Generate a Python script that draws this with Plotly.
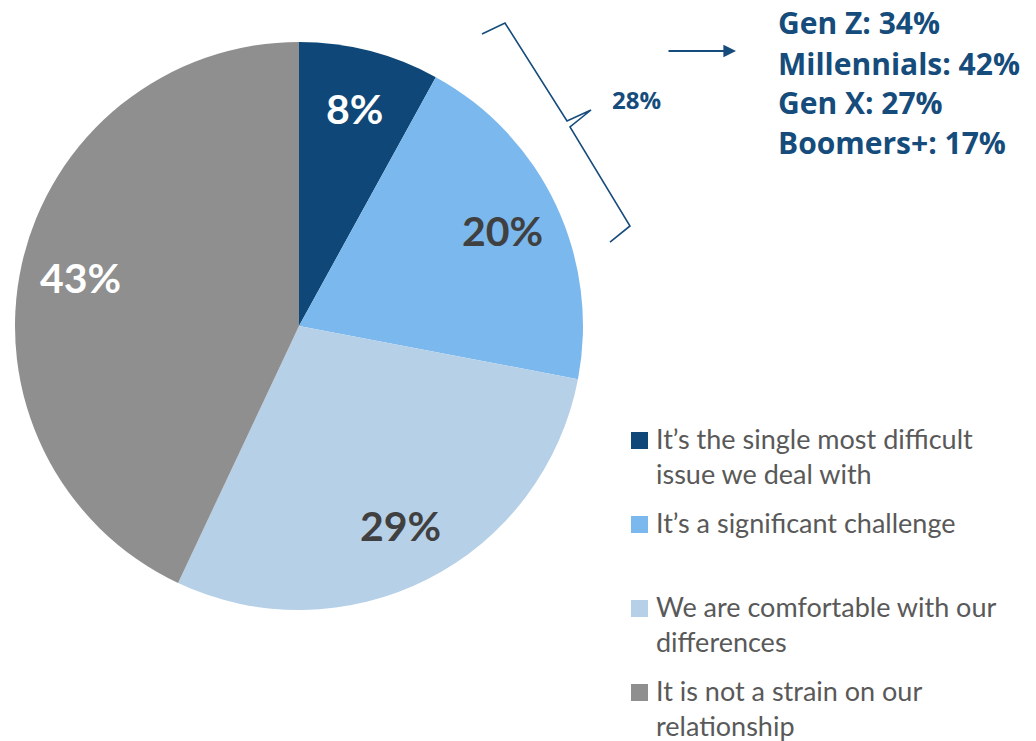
import math
import plotly.graph_objects as go

# Survey answers (share of respondents, %)
categories = [
    "It’s the single most difficult issue we deal with",
    "It’s a significant challenge",
    "We are comfortable with our differences",
    "It is not a strain on our relationship",
]
legend_lines = [
    ["It’s the single most difficult", "issue we deal with"],
    ["It’s a significant challenge"],
    ["We are comfortable with our", "differences"],
    ["It is not a strain on our", "relationship"],
]
values = [8, 20, 29, 43]
slice_colors = ["#0F4878", "#7AB8EE", "#B6D0E8", "#8F8F8F"]
label_colors = ["#FFFFFF", "#404040", "#404040", "#FFFFFF"]

# Breakdown of the combined "difficult / significant challenge" share by generation
generations = ["Gen Z", "Millennials", "Gen X", "Boomers+"]
generation_values = [34, 42, 27, 17]

NAVY = "#154C7B"
LEGEND_TEXT = "#595959"
FONT = "Lato"

W, H = 1036, 741
CX, CY, R = 299, 326, 284  # pie centre and radius in pixels


def px(x, y):
    """Pixel position -> paper coordinates."""
    return x / W, 1 - y / H


fig = go.Figure()
fig.add_trace(go.Pie(
    labels=categories,
    values=values,
    sort=False,
    direction="clockwise",
    rotation=0,
    marker=dict(colors=slice_colors, line=dict(width=0)),
    textinfo="none",
    hoverinfo="label+percent",
    domain=dict(x=[(CX - R) / W, (CX + R) / W], y=[1 - (CY + R) / H, 1 - (CY - R) / H]),
    showlegend=False,
))

annotations = []
shapes = []

# Percentage labels placed along each slice's mid angle
total = sum(values)
cum = 0
for v, col in zip(values, label_colors):
    mid = (cum + v / 2) / total * 2 * math.pi
    cum += v
    r = 0.79 * R
    lx = CX + r * math.sin(mid)
    ly = CY - r * math.cos(mid)
    x, y = px(lx, ly)
    annotations.append(dict(
        x=x, y=y, xref="paper", yref="paper", showarrow=False,
        text=f"<b>{v}%</b>", font=dict(family=FONT, size=41, color=col),
        xanchor="center", yanchor="middle",
    ))

# Curly brace around the first two slices
brace_pts = [(482, 34), (505, 23), (567, 121), (591, 110), (570, 127), (630, 226), (610, 242)]
path = ""
for i, (bx, by) in enumerate(brace_pts):
    x, y = px(bx, by)
    path += ("M" if i == 0 else "L") + f" {x:.5f},{y:.5f} "
shapes.append(dict(type="path", xref="paper", yref="paper", path=path,
                   line=dict(color=NAVY, width=1.6)))

combined = values[0] + values[1]
x, y = px(636, 100)
annotations.append(dict(
    x=x, y=y, xref="paper", yref="paper", showarrow=False,
    text=f"<b>{combined}%</b>", font=dict(family="Open Sans", size=24, color=NAVY),
    xanchor="center", yanchor="middle",
))

# Arrow pointing to the generation breakdown
x, y = px(736, 51)
annotations.append(dict(
    x=x, y=y, xref="paper", yref="paper", showarrow=True,
    ax=-69, ay=0, arrowhead=2, arrowsize=1.4, arrowwidth=1.8, arrowcolor=NAVY, text="",
))

for i, (g, gv) in enumerate(zip(generations, generation_values)):
    x, y = px(776, 23 + 40 * i)
    annotations.append(dict(
        x=x, y=y, xref="paper", yref="paper", showarrow=False,
        text=f"<b>{g}: {gv}%</b>", font=dict(family="Open Sans", size=30, color=NAVY),
        xanchor="left", yanchor="middle",
    ))

# Legend: coloured squares with wrapped labels
for i, (lines, col) in enumerate(zip(legend_lines, slice_colors)):
    top = 440 + 84 * i
    x0, y0 = px(631, top - 8)
    x1, y1 = px(648, top + 9)
    shapes.append(dict(type="rect", xref="paper", yref="paper",
                       x0=x0, y0=y1, x1=x1, y1=y0, fillcolor=col, line=dict(width=0)))
    for j, line in enumerate(lines):
        x, y = px(655, top - 2 + 35.5 * j)
        annotations.append(dict(
            x=x, y=y, xref="paper", yref="paper", showarrow=False,
            text=line, font=dict(family=FONT, size=27, color=LEGEND_TEXT),
            xanchor="left", yanchor="middle", borderpad=0,
        ))

fig.update_layout(
    width=W, height=H,
    margin=dict(l=0, r=0, t=0, b=0),
    paper_bgcolor="white", plot_bgcolor="white",
    annotations=annotations, shapes=shapes,
    showlegend=False,
)

fig.write_html("out.html")
